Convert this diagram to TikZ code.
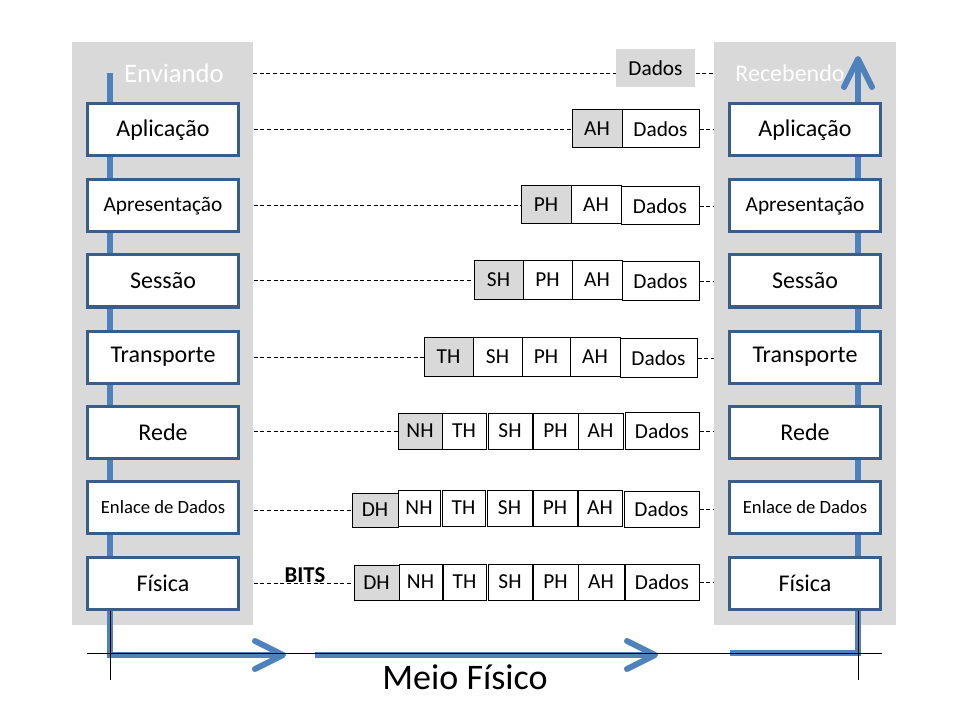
\documentclass[tikz,border=0pt]{standalone}
\usepackage{fontspec}
\setmainfont{Carlito}
\definecolor{panelgray}{HTML}{D9D9D9}
\definecolor{layerborder}{HTML}{385D8A}
\definecolor{flowblue}{HTML}{4F81BD}

\tikzset{
  panel/.style={fill=panelgray, draw=none, inner sep=0pt, anchor=north west},
  layer/.style={draw=layerborder, line width=2.25pt, fill=white,
    minimum width=113.5pt, minimum height=39pt, inner sep=0pt,
    font=\fontsize{18}{21}\selectfont},
  pkbox/.style={draw=black, line width=0.75pt, fill=white, inner sep=0pt,
    font=\fontsize{16}{19}\selectfont},
  hdr/.style={pkbox, fill=panelgray},
  link/.style={line width=0.6pt, dash pattern=on 3pt off 2pt},
  flow/.style={draw=flowblue, line width=4.5pt},
  chevron/.style={draw=flowblue, line width=4.5pt, line cap=round, line join=round},
  guide/.style={draw=black, line width=0.75pt},
  side/.style={text=white, anchor=base},
}

% one block of a frame: name, left x, right x, centre y, height, style, text
\newcommand\pkt[7]{\node[#6, minimum width={(#3-#2)*0.75pt}, minimum height={#5*0.75pt}] (#1) at ({(#2+#3)/2},#4) {#7};}

\begin{document}
\begin{tikzpicture}[x=0.75pt, y=-0.75pt]
\useasboundingbox (0,0) rectangle (960,720);

% sender and receiver stacks
\node[panel, minimum width={181*0.75pt}, minimum height={583*0.75pt}] (sendpanel) at (72,42) {};
\node[panel, minimum width={182*0.75pt}, minimum height={583*0.75pt}] (recvpanel) at (714,42) {};

% data flow through the stacks and the medium
\coordinate (sTop) at (110,73);
\coordinate (sCorner) at (110,655);
\coordinate (sEnd) at (281,655);
\coordinate (mStart) at (315,655);
\coordinate (mEnd) at (653,655);
\coordinate (rStart) at (730,653);
\coordinate (rCorner) at (858,653);
\coordinate (rEnd) at (858,61);
\draw[flow] (sTop) -- (sCorner) -- (sEnd);
\draw[chevron] (255,641) -- (283,655) -- (255,669);
\draw[flow] (mStart) -- (mEnd);
\draw[chevron] (627,641) -- (655,655) -- (627,669);
\draw[flow] (rStart) -- (rCorner) -- (rEnd);
\draw[chevron] (844,87) -- (858,59) -- (872,87);

\node[side, font=\fontsize{20}{24}\selectfont] (sendlbl) at (174,83) {Enviando};
\node[side, font=\fontsize{18}{22}\selectfont] (recvlbl) at (790,82) {Recebendo};

% OSI layers
\foreach \nm/\yc/\txt/\fs in {Apl/130/Aplicação/18, Apr/206/Apresentação/16, Ses/281/Sessão/18,
    Tra/357/Transporte/18, Red/432/Rede/18, Enl/507/Enlace de Dados/14, Fis/583/Física/18}{
  \node[layer, font=\fontsize{\fs}{\fs}\selectfont] (s\nm) at (163,\yc) {\txt};
  \node[layer, font=\fontsize{\fs}{\fs}\selectfont] (r\nm) at (805,\yc) {\txt};
}

% medium guides
\draw[guide] (87,653) -- (882,653);
\draw[guide] (sFis.south -| sCorner) -- (110,680);
\draw[guide] (rFis.south -| rCorner) -- (858,680);

% frames at each layer
\pkt{d0}{616}{695}{68}{38}{hdr, draw=none}{Dados}

\pkt{a1}{572}{622}{129}{38}{hdr}{AH}
\pkt{d1}{622}{699}{129}{38}{pkbox}{Dados}

\pkt{p2}{521}{571}{205}{38}{hdr}{PH}
\pkt{a2}{571}{621}{205}{38}{pkbox}{AH}
\pkt{d2}{621}{699}{206}{38}{pkbox}{Dados}

\pkt{s3}{474}{523}{280}{39}{hdr}{SH}
\pkt{p3}{523}{572}{280}{39}{pkbox}{PH}
\pkt{a3}{572}{622}{280}{39}{pkbox}{AH}
\pkt{d3}{622}{699}{281}{39}{pkbox}{Dados}

\pkt{t4}{424}{473}{357}{39}{hdr}{TH}
\pkt{s4}{473}{522}{357}{39}{pkbox}{SH}
\pkt{p4}{522}{570}{357}{39}{pkbox}{PH}
\pkt{a4}{570}{620}{357}{39}{pkbox}{AH}
\pkt{d4}{620}{697}{358}{39}{pkbox}{Dados}

\pkt{n5}{398}{442}{431}{36}{hdr}{NH}
\pkt{t5}{442}{486}{431}{36}{pkbox}{TH}
\pkt{s5}{488}{532}{431}{36}{pkbox}{SH}
\pkt{p5}{533}{578}{431}{36}{pkbox}{PH}
\pkt{a5}{578}{623}{431}{36}{pkbox}{AH}
\pkt{d5}{625}{699}{431}{37}{pkbox}{Dados}

\pkt{h6}{352}{398}{510}{34}{hdr}{DH}
\pkt{n6}{398}{440}{508}{36}{pkbox}{NH}
\pkt{t6}{442}{485}{508}{36}{pkbox}{TH}
\pkt{s6}{487}{532}{508}{36}{pkbox}{SH}
\pkt{p6}{533}{577}{508}{36}{pkbox}{PH}
\pkt{a6}{578}{622}{508}{36}{pkbox}{AH}
\pkt{d6}{624}{699}{509}{36}{pkbox}{Dados}

\pkt{h7}{354}{399}{583}{35}{hdr}{DH}
\pkt{n7}{399}{442}{582}{36}{pkbox}{NH}
\pkt{t7}{443}{486}{582}{36}{pkbox}{TH}
\pkt{s7}{488}{532}{582}{36}{pkbox}{SH}
\pkt{p7}{533}{578}{582}{36}{pkbox}{PH}
\pkt{a7}{578}{624}{582}{36}{pkbox}{AH}
\pkt{d7}{625}{699}{582}{36}{pkbox}{Dados}

% peer links between the stacks
\coordinate (topL) at (253,73);
\draw[link] (topL) -- (topL -| d0.west);
\draw[link] (d0.east |- topL) -- (topL -| recvpanel.west);
\foreach \first/\last in {a1/d1, p2/d2, s3/d3, t4/d4, n5/d5, h6/d6, h7/d7}{
  \draw[link] (sendpanel.east |- \first.west) -- (\first.west);
  \draw[link] (\last.east) -- (\last.east -| recvpanel.west);
}

\node[anchor=base, font=\bfseries\fontsize{17}{20}\selectfont] (bits) at (305,582) {BITS};
\node[anchor=base, font=\fontsize{27}{32}\selectfont] (medium) at (465,689) {Meio Físico};
\end{tikzpicture}
\end{document}
